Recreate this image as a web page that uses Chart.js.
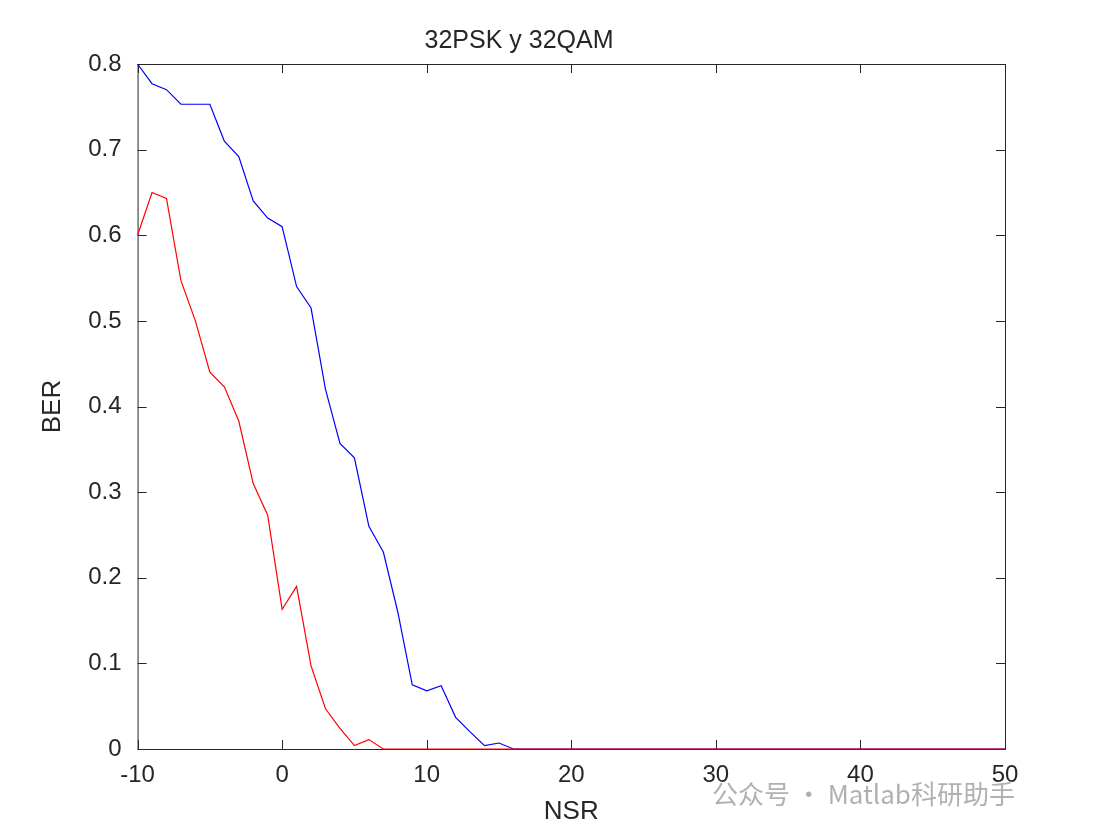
<!DOCTYPE html>
<html>
<head>
<meta charset="utf-8">
<script src="https://cdn.jsdelivr.net/npm/chart.js@4/dist/chart.umd.min.js"></script>
<style>
  body { margin: 0; background: #fff; }
  #wrap { position: relative; width: 1100px; height: 836px; }
  #mark { position: absolute; left: 712px; top: 774px; font: 26px "Noto Sans CJK SC", sans-serif; color: rgba(150,150,150,0.75); }
</style>
</head>
<body>
<div id="wrap">
<canvas id="chart" width="1100" height="836"></canvas>
<div id="mark">公众号 · Matlab科研助手</div>
</div>
<script>
// NSR values -10..50
const nsr = [-10,-9,-8,-7,-6,-5,-4,-3,-2,-1,0,1,2,3,4,5,6,7,8,9,10,11,12,13,14,15,16,17,18,19,20,
  21,22,23,24,25,26,27,28,29,30,31,32,33,34,35,36,37,38,39,40,41,42,43,44,45,46,47,48,49,50];
const berPSK = [0.8,0.777,0.77,0.753,0.753,0.753,0.71,0.692,0.64,0.62,0.61,0.54,0.515,0.42,0.357,0.34,
  0.26,0.23,0.16,0.075,0.068,0.074,0.037,0.02,0.004,0.007,0,0,0,0,0,
  0,0,0,0,0,0,0,0,0,0,0,0,0,0,0,0,0,0,0,0,0,0,0,0,0,0,0,0,0,0];
const berQAM = [0.6,0.65,0.643,0.547,0.5,0.44,0.423,0.383,0.31,0.273,0.163,0.19,0.097,0.047,0.024,0.004,
  0.011,0,0,0,0,0,0,0,0,0,0,0,0,0,0,
  0,0,0,0,0,0,0,0,0,0,0,0,0,0,0,0,0,0,0,0,0,0,0,0,0,0,0,0,0,0];
const xTicks = [-10,0,10,20,30,40,50];
const yTicks = [0,0.1,0.2,0.3,0.4,0.5,0.6,0.7,0.8];

const toPts = ys => nsr.map((x, i) => ({ x: x, y: ys[i] }));
const font = { family: 'Arial, "Liberation Sans", sans-serif', size: 24 };

// box and inward ticks, MATLAB style (drawn under the lines)
const boxPlugin = {
  id: 'box',
  beforeDatasetsDraw(chart) {
    const { ctx, chartArea: a, scales } = chart;
    ctx.save();
    ctx.strokeStyle = '#262626';
    ctx.lineWidth = 1;
    ctx.strokeRect(a.left + 0.5, a.top + 0.5, a.right - a.left, a.bottom - a.top);
    ctx.beginPath();
    xTicks.forEach(v => {
      const px = Math.round(scales.x.getPixelForValue(v)) + 0.5;
      ctx.moveTo(px, a.bottom); ctx.lineTo(px, a.bottom - 9);
      ctx.moveTo(px, a.top); ctx.lineTo(px, a.top + 9);
    });
    yTicks.forEach(v => {
      const py = Math.round(scales.y.getPixelForValue(v)) + 0.5;
      ctx.moveTo(a.left, py); ctx.lineTo(a.left + 9, py);
      ctx.moveTo(a.right, py); ctx.lineTo(a.right - 9, py);
    });
    ctx.stroke();
    ctx.restore();
  }
};

new Chart(document.getElementById('chart'), {
  type: 'line',
  data: {
    datasets: [
      // first dataset is drawn on top
      { label: '32QAM', data: toPts(berQAM), borderColor: '#ff0000', borderWidth: 1.2, pointRadius: 0, tension: 0, clip: 3 },
      { label: '32PSK', data: toPts(berPSK), borderColor: '#0000ff', borderWidth: 1.2, pointRadius: 0, tension: 0, clip: 3 }
    ]
  },
  options: {
    responsive: false,
    animation: false,
    layout: { padding: { left: 33, right: 95, top: 8, bottom: 5 } },
    plugins: {
      legend: { display: false },
      tooltip: { enabled: false },
      title: { display: true, text: '32PSK y 32QAM', color: '#262626', font: { ...font, size: 25, weight: 'normal' }, padding: { top: 18, bottom: 8 } }
    },
    scales: {
      x: {
        type: 'linear', min: -10, max: 50,
        afterBuildTicks: s => { s.ticks = xTicks.map(v => ({ value: v })); },
        grid: { display: false }, border: { display: false },
        ticks: { color: '#262626', font: font, padding: 4 },
        title: { display: true, text: 'NSR', color: '#262626', font: { ...font, size: 26 }, padding: { top: 2 } }
      },
      y: {
        min: 0, max: 0.8,
        afterBuildTicks: s => { s.ticks = yTicks.map(v => ({ value: v })); },
        grid: { display: false }, border: { display: false },
        ticks: { color: '#262626', font: font, padding: 8, callback: v => v === 0 ? '0' : v.toFixed(1) },
        title: { display: true, text: 'BER', color: '#262626', font: { ...font, size: 26 }, padding: { bottom: 12 } }
      }
    }
  },
  plugins: [boxPlugin]
});
</script>
</body>
</html>
